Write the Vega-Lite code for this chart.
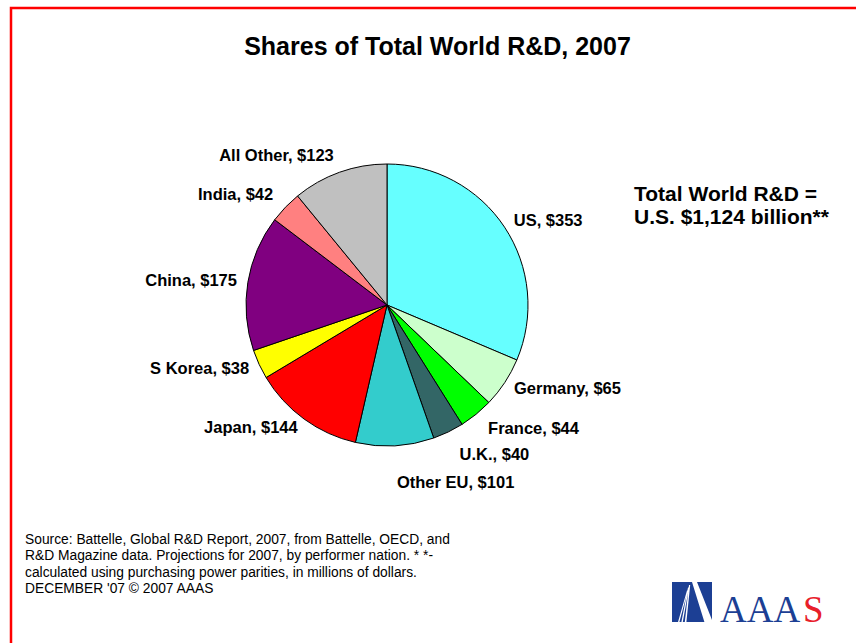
{
  "$schema": "https://vega.github.io/schema/vega-lite/v6.json",
  "width": 845,
  "height": 635,
  "autosize": {"type": "none"},
  "padding": {"left": 11, "top": 8, "right": 0, "bottom": 0},
  "background": "white",
  "config": {
    "view": {"stroke": null},
    "font": "Liberation Sans",
    "text": {"font": "Liberation Sans"}
  },
  "title": {
    "text": "Shares of Total World R&D, 2007",
    "offset": -73,
    "dx": 4,
    "baseline": "alphabetic",
    "fontSize": 25,
    "fontWeight": "bold",
    "font": "Liberation Sans",
    "color": "black",
    "anchor": "middle"
  },
  "datasets": {
    "slices": [
      {"country": "US", "value": 353, "order": 1, "label": "US, $353"},
      {"country": "Germany", "value": 65, "order": 2, "label": "Germany, $65"},
      {"country": "France", "value": 44, "order": 3, "label": "France, $44"},
      {"country": "U.K.", "value": 40, "order": 4, "label": "U.K., $40"},
      {"country": "Other EU", "value": 101, "order": 5, "label": "Other EU, $101"},
      {"country": "Japan", "value": 144, "order": 6, "label": "Japan, $144"},
      {"country": "S Korea", "value": 38, "order": 7, "label": "S Korea, $38"},
      {"country": "China", "value": 175, "order": 8, "label": "China, $175"},
      {"country": "India", "value": 42, "order": 9, "label": "India, $42"},
      {"country": "All Other", "value": 123, "order": 10, "label": "All Other, $123"}
    ],
    "frame": [{"frame": "border"}],
    "total": [{"note": "Total World R&D =\nU.S. $1,124 billion**"}],
    "source": [{"note": "Source: Battelle, Global R&D Report, 2007, from Battelle, OECD, and\nR&D Magazine data. Projections for 2007, by performer nation. * *-\ncalculated using purchasing power parities, in millions of dollars.\nDECEMBER '07 © 2007 AAAS"}],
    "logo": [{"word": "AAA", "last": "S"}]
  },
  "layer": [
    {
      "data": {"name": "frame"},
      "mark": {"type": "rect", "filled": false, "stroke": "#FF0000", "strokeWidth": 2.5, "strokeDash": [846.25, 1478.75, 637, 0]},
      "encoding": {}
    },
    {
      "data": {"name": "slices"},
      "mark": {"type": "arc", "outerRadius": 141, "stroke": "black", "strokeWidth": 1, "x": 376, "y": 297},
      "encoding": {
        "theta": {"field": "value", "type": "quantitative", "stack": true},
        "order": {"field": "order", "type": "quantitative"},
        "color": {
          "field": "country",
          "type": "nominal",
          "legend": null,
          "scale": {
            "domain": ["US", "Germany", "France", "U.K.", "Other EU", "Japan", "S Korea", "China", "India", "All Other"],
            "range": ["#66FFFF", "#CCFFCC", "#00FF00", "#336666", "#33CCCC", "#FF0000", "#FFFF00", "#800080", "#FF8080", "#C0C0C0"]
          }
        }
      }
    },
    {
      "data": {"name": "slices"},
      "mark": {"type": "text", "radius": 152, "align": "left", "baseline": "middle", "fontSize": 16.5, "fontWeight": "bold", "x": 376, "y": 297, "color": "black"},
      "encoding": {
        "theta": {"field": "value", "type": "quantitative", "stack": true},
        "order": {"field": "order", "type": "quantitative"},
        "text": {"condition": {"test": "datum.order <= 2", "field": "label"}, "value": ""}
      }
    },
    {
      "data": {"name": "slices"},
      "mark": {"type": "text", "radius": 160, "align": "left", "baseline": "middle", "fontSize": 16.5, "fontWeight": "bold", "x": 376, "y": 297, "color": "black"},
      "encoding": {
        "theta": {"field": "value", "type": "quantitative", "stack": true},
        "order": {"field": "order", "type": "quantitative"},
        "text": {"condition": {"test": "datum.order == 3", "field": "label"}, "value": ""}
      }
    },
    {
      "data": {"name": "slices"},
      "mark": {"type": "text", "radius": 167, "align": "left", "baseline": "middle", "fontSize": 16.5, "fontWeight": "bold", "x": 376, "y": 297, "color": "black"},
      "encoding": {
        "theta": {"field": "value", "type": "quantitative", "stack": true},
        "order": {"field": "order", "type": "quantitative"},
        "text": {"condition": {"test": "datum.order == 4", "field": "label"}, "value": ""}
      }
    },
    {
      "data": {"name": "slices"},
      "mark": {"type": "text", "radius": 178, "align": "left", "baseline": "middle", "fontSize": 16.5, "fontWeight": "bold", "x": 376, "y": 297, "color": "black"},
      "encoding": {
        "theta": {"field": "value", "type": "quantitative", "stack": true},
        "order": {"field": "order", "type": "quantitative"},
        "text": {"condition": {"test": "datum.order == 5", "field": "label"}, "value": ""}
      }
    },
    {
      "data": {"name": "slices"},
      "mark": {"type": "text", "radius": 152, "align": "right", "baseline": "middle", "fontSize": 16.5, "fontWeight": "bold", "x": 376, "y": 297, "color": "black"},
      "encoding": {
        "theta": {"field": "value", "type": "quantitative", "stack": true},
        "order": {"field": "order", "type": "quantitative"},
        "text": {"condition": {"test": "datum.order >= 6 && datum.order <= 8", "field": "label"}, "value": ""}
      }
    },
    {
      "data": {"name": "slices"},
      "mark": {"type": "text", "radius": 158, "align": "right", "baseline": "middle", "fontSize": 16.5, "fontWeight": "bold", "x": 376, "y": 297, "color": "black"},
      "encoding": {
        "theta": {"field": "value", "type": "quantitative", "stack": true},
        "order": {"field": "order", "type": "quantitative"},
        "text": {"condition": {"test": "datum.order >= 9", "field": "label"}, "value": ""}
      }
    },
    {
      "data": {"name": "total"},
      "mark": {"type": "text", "align": "left", "baseline": "alphabetic", "lineBreak": "\n", "lineHeight": 23, "fontSize": 21, "fontWeight": "bold", "x": 623, "y": 193, "color": "black"},
      "encoding": {"text": {"field": "note"}}
    },
    {
      "data": {"name": "source"},
      "mark": {"type": "text", "align": "left", "baseline": "alphabetic", "lineBreak": "\n", "lineHeight": 16.4, "fontSize": 13.8, "x": 14, "y": 536, "color": "black"},
      "encoding": {"text": {"field": "note"}}
    },
    {
      "data": {"name": "logo"},
      "mark": {"type": "point", "shape": "M-1,-1L1,-1L1,1L-1,1Z", "filled": true, "size": 1600, "color": "#1C3F94", "opacity": 1, "strokeWidth": 0, "x": 681, "y": 594},
      "encoding": {}
    },
    {
      "data": {"name": "logo"},
      "mark": {"type": "point", "shape": "M0,-1L0.25,-1L1,0.9L1,1L0.62,1Z M-0.15,-0.85L-0.09,-0.85L-0.28,1L-0.36,1Z M-0.2,-0.72L-0.15,-0.72L-0.46,1L-0.53,1Z M-0.25,-0.58L-0.21,-0.58L-0.63,1L-0.7,1Z", "filled": true, "size": 1600, "color": "white", "opacity": 1, "strokeWidth": 0, "x": 681, "y": 594},
      "encoding": {}
    },
    {
      "data": {"name": "logo"},
      "mark": {"type": "text", "align": "left", "baseline": "alphabetic", "font": "Liberation Serif", "fontSize": 37, "x": 709, "y": 614, "color": "#1C3F94"},
      "encoding": {"text": {"field": "word"}}
    },
    {
      "data": {"name": "logo"},
      "mark": {"type": "text", "align": "left", "baseline": "alphabetic", "font": "Liberation Serif", "fontSize": 37, "x": 792, "y": 614, "color": "#E8202A"},
      "encoding": {"text": {"field": "last"}}
    }
  ]
}
